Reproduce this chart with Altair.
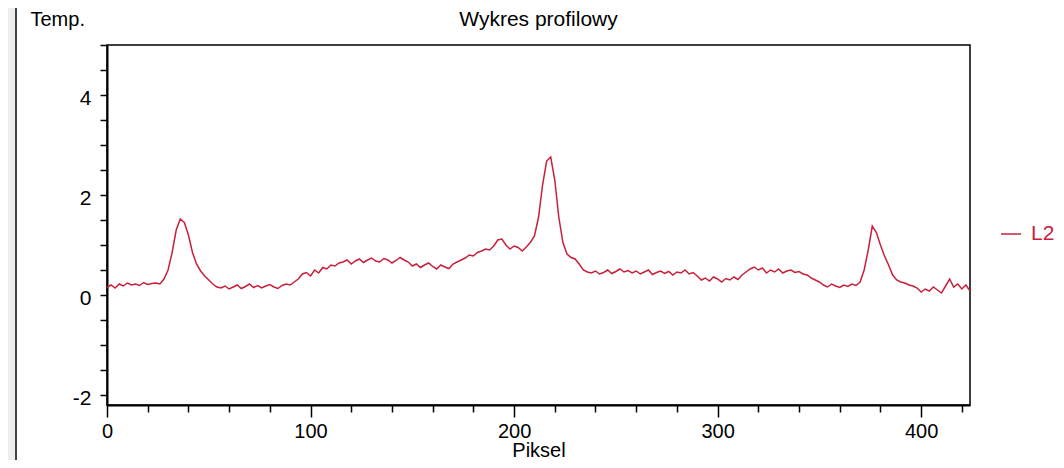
import altair as alt
import pandas as pd

# Profile data (pixel index, temperature)
piksel = list(range(0, 425, 2))
temp = [
    0.15, 0.20, 0.14, 0.22, 0.18, 0.24, 0.20, 0.22, 0.19, 0.25, 0.21, 0.23, 0.24, 0.22,
    0.32, 0.50, 0.85, 1.30, 1.52, 1.45, 1.20, 0.85, 0.62, 0.48, 0.38, 0.30, 0.22, 0.16,
    0.14, 0.18, 0.12, 0.16, 0.20, 0.13, 0.17, 0.22, 0.15, 0.19, 0.14, 0.18, 0.21, 0.16, 0.13, 0.19, 0.22, 0.20, 0.26,
    0.32, 0.42, 0.45, 0.38, 0.50, 0.44, 0.55, 0.52, 0.60, 0.58, 0.64, 0.66,
    0.70, 0.62, 0.68, 0.72, 0.65, 0.70, 0.74, 0.68, 0.66, 0.73, 0.70, 0.64, 0.69, 0.75, 0.70, 0.66,
    0.58, 0.62, 0.55, 0.60, 0.64, 0.57, 0.52, 0.60, 0.56, 0.53,
    0.62, 0.66, 0.70, 0.74, 0.80, 0.78, 0.85, 0.88, 0.92, 0.90,
    0.98, 1.10, 1.12, 1.00, 0.92, 0.98, 0.95, 0.88, 0.96, 1.05,
    1.18, 1.55, 2.20, 2.68, 2.76, 2.30, 1.55, 1.05, 0.82, 0.75,
    0.72, 0.62, 0.50,
    0.46, 0.44, 0.48, 0.42, 0.45, 0.50, 0.43, 0.47, 0.52, 0.46,
    0.49, 0.44, 0.48, 0.42, 0.46, 0.50, 0.41, 0.45, 0.48, 0.43,
    0.47, 0.40, 0.46, 0.44, 0.50, 0.42, 0.45,
    0.38, 0.30, 0.34, 0.28, 0.36, 0.32, 0.26, 0.33, 0.30, 0.36, 0.31, 0.40, 0.46,
    0.52, 0.56, 0.50, 0.54, 0.44, 0.50, 0.46, 0.52, 0.44, 0.48,
    0.50, 0.45, 0.47, 0.42, 0.40, 0.34, 0.30, 0.26,
    0.20, 0.16, 0.22, 0.18, 0.15, 0.20, 0.17, 0.22, 0.19, 0.26,
    0.50, 0.90, 1.38, 1.25, 1.00, 0.78, 0.60, 0.40, 0.30, 0.26,
    0.24, 0.20, 0.18, 0.14, 0.06, 0.12, 0.08, 0.16, 0.10, 0.04,
    0.18, 0.32, 0.16, 0.22, 0.12, 0.20, 0.08,
]
seria = ["L2"] * len(temp)

x_ticks = [0, 20, 40, 60, 80, 100, 120, 140, 160, 180, 200, 220, 240, 260, 280,
           300, 320, 340, 360, 380, 400, 420]
y_ticks = [-2, -1.5, -1, -0.5, 0, 0.5, 1, 1.5, 2, 2.5, 3, 3.5, 4, 4.5, 5]

chart_title = ["Wykres profilowy"]

df = pd.DataFrame({"Piksel": piksel, "Temp": temp, "Seria": seria})
title_df = pd.DataFrame({"t": chart_title})

FONT = "Liberation Sans"
RED = "#c8203c"

line = alt.Chart(df).mark_line(strokeWidth=1.5).encode(
    x=alt.X(
        "Piksel:Q",
        scale=alt.Scale(domain=[0, 424], nice=False, zero=False),
        axis=alt.Axis(
            values=x_ticks,
            labelExpr="datum.value % 100 === 0 ? '' + datum.value : ''",
            tickSize={"condition": {"test": "datum.value % 100 === 0", "value": 12}, "value": 7},
            labelPadding=20,
            labelBaseline="alphabetic",
            labelFlush=False,
            labelOverlap=False,
            grid=False,
            domainColor="black",
            domainWidth=2,
            tickColor="black",
            tickWidth=1.5,
            labelFont=FONT,
            labelFontSize=20,
            labelColor="black",
            title="Piksel",
            titleFont=FONT,
            titleFontSize=20,
            titleFontWeight="normal",
            titleColor="black",
            titleBaseline="alphabetic",
            titleY=51,
        ),
    ),
    y=alt.Y(
        "Temp:Q",
        scale=alt.Scale(domain=[-2.2, 5], nice=False, zero=False),
        axis=alt.Axis(
            values=y_ticks,
            labelExpr="datum.value % 2 === 0 ? '' + datum.value : ''",
            tickSize=7,
            labelPadding=9,
            labelOffset=3,
            labelOverlap=False,
            grid=False,
            domainColor="black",
            domainWidth=2,
            tickColor="black",
            tickWidth=1.5,
            labelFont=FONT,
            labelFontSize=21,
            labelColor="black",
            title="Temp.",
            titleFont=FONT,
            titleFontSize=20,
            titleFontWeight="normal",
            titleColor="black",
            titleAngle=0,
            titleAlign="left",
            titleBaseline="alphabetic",
            titleX=-77,
            titleY=-20,
        ),
    ),
    color=alt.Color(
        "Seria:N",
        scale=alt.Scale(range=[RED]),
        legend=alt.Legend(
            title=None,
            orient="none",
            legendX=893,
            legendY=178,
            padding=0,
            symbolType="stroke",
            symbolSize=400,
            symbolStrokeWidth=1.5,
            labelFont=FONT,
            labelFontSize=21,
            labelColor=RED,
            labelOffset=9,
        ),
    ),
)

title_text = alt.Chart(title_df).mark_text(
    font=FONT, fontSize=21, align="center", baseline="alphabetic", color="black"
).encode(text="t:N", x=alt.value(431.5), y=alt.value(-19))

side_strip = alt.Chart(title_df).mark_rect(color="#eeeeee").encode(
    x=alt.value(-99), x2=alt.value(-92), y=alt.value(-37), y2=alt.value(415)
)
side_rule = alt.Chart(title_df).mark_rule(color="#444444", strokeWidth=2).encode(
    x=alt.value(-91), y=alt.value(-37), y2=alt.value(415)
)

chart = alt.layer(side_strip, side_rule, line, title_text).properties(
    width=863,
    height=360,
    autosize="none",
    padding={"left": 99, "top": 37, "right": 86, "bottom": 55},
    background="white",
).configure_view(stroke="black", strokeWidth=1.5)

chart.save("out.html", embed_options={"renderer": "svg", "actions": False})
